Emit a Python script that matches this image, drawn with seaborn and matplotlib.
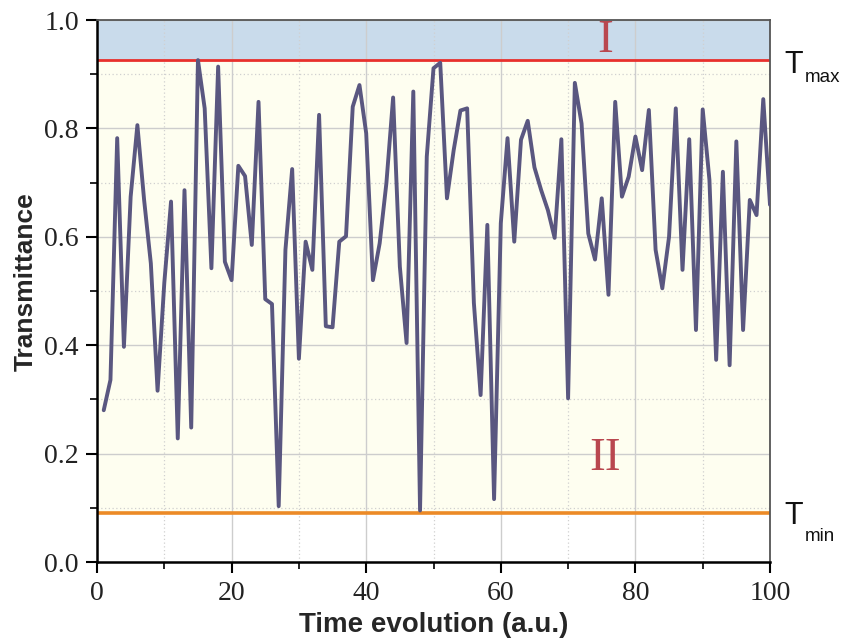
import matplotlib
matplotlib.use("Agg")
import matplotlib.pyplot as plt
import seaborn as sns
import pandas as pd
from matplotlib.ticker import MultipleLocator

# ---------------- data ----------------
time = list(range(1, 101))
transmittance = [
    0.280, 0.336, 0.782, 0.397, 0.674, 0.806, 0.668, 0.551, 0.316, 0.515,
    0.665, 0.228, 0.686, 0.248, 0.926, 0.837, 0.542, 0.914, 0.554, 0.520,
    0.731, 0.712, 0.585, 0.849, 0.485, 0.476, 0.103, 0.576, 0.725, 0.375,
    0.591, 0.539, 0.825, 0.435, 0.433, 0.591, 0.601, 0.840, 0.880, 0.791,
    0.520, 0.588, 0.699, 0.857, 0.545, 0.404, 0.868, 0.095, 0.748, 0.911,
    0.921, 0.671, 0.760, 0.833, 0.837, 0.478, 0.308, 0.622, 0.116, 0.625,
    0.782, 0.591, 0.779, 0.814, 0.728, 0.686, 0.649, 0.598, 0.780, 0.302,
    0.884, 0.809, 0.606, 0.558, 0.671, 0.493, 0.849, 0.674, 0.711, 0.785,
    0.723, 0.834, 0.576, 0.505, 0.600, 0.837, 0.539, 0.780, 0.428, 0.835,
    0.705, 0.373, 0.720, 0.363, 0.776, 0.428, 0.668, 0.640, 0.854, 0.659,
]
T_MAX = 0.926
T_MIN = 0.090
x_ticks = [0, 20, 40, 60, 80, 100]
y_ticks = [0.0, 0.2, 0.4, 0.6, 0.8, 1.0]
region_labels = ["I", "II"]
region_label_pos = [(75.5, 0.962), (75.5, 0.19)]

df = pd.DataFrame({"time": time, "T": transmittance})

# ---------------- style ----------------
sns.set_style("ticks")
plt.rcParams["font.family"] = ["Liberation Sans", "DejaVu Sans"]

fig = plt.figure(figsize=(8.42, 6.40), dpi=100)
W, H = 842, 640
left, right, top, bottom = 97, 770, 20, 562
ax = fig.add_axes([left / W, 1 - bottom / H, (right - left) / W, (bottom - top) / H])

# background bands
ax.axhspan(T_MIN, T_MAX, color="#fefef0", zorder=0, lw=0)
ax.axhspan(T_MAX, 1.0, color="#c9dbeb", zorder=0, lw=0)

# grid
ax.xaxis.set_major_locator(MultipleLocator(20))
ax.xaxis.set_minor_locator(MultipleLocator(10))
ax.yaxis.set_major_locator(MultipleLocator(0.2))
ax.yaxis.set_minor_locator(MultipleLocator(0.1))
ax.grid(which="major", color="#cdcdcd", lw=1.0, ls="-", zorder=0.5)
ax.grid(which="minor", color="#d0d0d0", lw=0.9, ls=(0, (1, 2)), zorder=0.5)
ax.set_axisbelow(True)

# threshold lines
ax.axhline(T_MAX, color="#e8302c", lw=2.0, zorder=2.5)
ax.axhline(T_MIN, color="#ec8a26", lw=2.6, zorder=2.5)

# data line
sns.lineplot(data=df, x="time", y="T", ax=ax, color="#5a5780",
             linewidth=2.8, zorder=3, legend=False)

ax.set_xlim(0, 100)
ax.set_ylim(0, 1.0)
ax.set_xticks(x_ticks)
ax.set_yticks(y_ticks)
ax.set_xticklabels([str(v) for v in x_ticks])
ax.set_yticklabels([f"{v:.1f}" for v in y_ticks])

for lab in ax.get_xticklabels() + ax.get_yticklabels():
    lab.set_fontfamily(["Liberation Serif", "DejaVu Serif"])
    lab.set_fontsize(20)
    lab.set_color("#222222")

ax.tick_params(which="major", direction="out", length=8, width=1.5, color="black")
ax.tick_params(which="minor", direction="out", length=5, width=1.2, color="black")
ax.tick_params(axis="x", which="major", pad=6)
ax.tick_params(axis="y", which="major", pad=5)

for s in ["left", "bottom"]:
    ax.spines[s].set_color("black")
    ax.spines[s].set_linewidth(1.8)
for s in ["top", "right"]:
    ax.spines[s].set_visible(True)
    ax.spines[s].set_color("#555555")
    ax.spines[s].set_linewidth(1.3)

ax.set_xlabel("Time evolution (a.u.)", fontsize=20, fontweight="bold",
              family=["Liberation Sans", "DejaVu Sans"])
ax.set_ylabel("Transmittance", fontsize=19, fontweight="bold",
              family=["Liberation Sans", "DejaVu Sans"])
ax.xaxis.set_label_coords(0.5, -(612 - bottom) / (bottom - top))
ax.yaxis.set_label_coords(-(97 - 38) / (right - left), 0.518)

# region labels
for txt, (xx, yy) in zip(region_labels, region_label_pos):
    ax.text(xx, yy, txt, fontsize=34, color="#b9474f", ha="center", va="center",
            family=["Liberation Serif", "DejaVu Serif"], zorder=4)

# T_max / T_min labels outside the axes
fig.text(784 / W, 1 - 73 / H, "T", fontsize=22, ha="left", va="baseline", color="#111111")
fig.text(805 / W, 1 - 82 / H, "max", fontsize=13.5, ha="left", va="baseline", color="#111111")
fig.text(784 / W, 1 - 524 / H, "T", fontsize=22, ha="left", va="baseline", color="#111111")
fig.text(805 / W, 1 - 541 / H, "min", fontsize=13.5, ha="left", va="baseline", color="#111111")

fig.savefig("out.png", dpi=100)
